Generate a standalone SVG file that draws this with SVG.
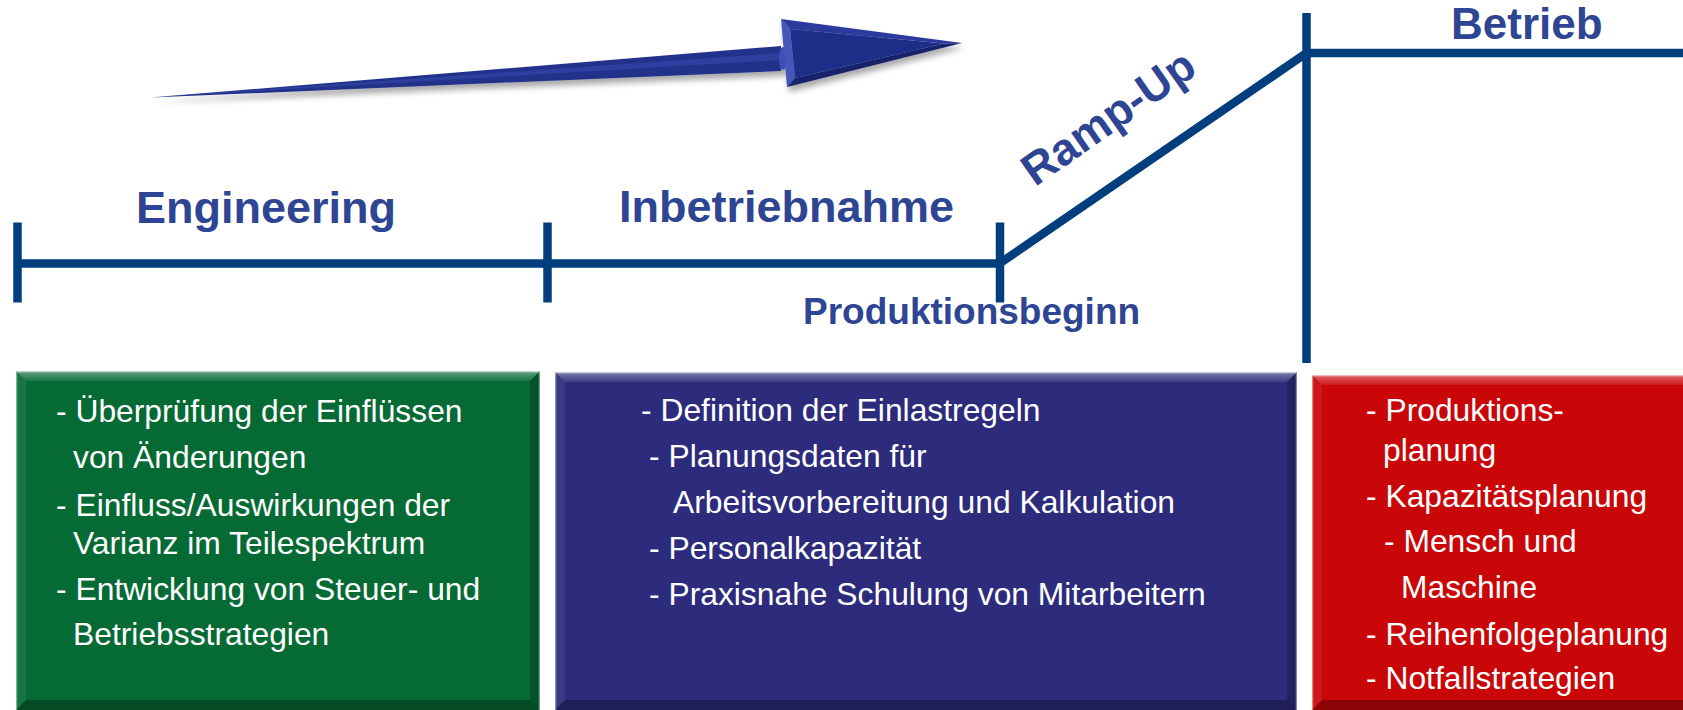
<svg xmlns="http://www.w3.org/2000/svg" width="1683" height="710" viewBox="0 0 1683 710">
  <style>
    .axis { stroke: #003e7e; stroke-width: 8.5; fill: none; stroke-linecap: butt; }
    .phase { font-family: "Liberation Sans", Arial, sans-serif; font-weight: bold; fill: #2e4593; }
    .item { font-family: "Liberation Sans", Arial, sans-serif; font-size: 31.8px; fill: #ffffff; }
    .bev-top { fill: url(#topShine); }
    .bev-left { fill: #ffffff; fill-opacity: 0.07; }
    .bev-right { fill: #000000; fill-opacity: 0.22; }
    .bev-bottom { fill: #000000; fill-opacity: 0.3; }
    .rim { fill: none; stroke: #ffffff; stroke-opacity: 0.45; stroke-width: 1.5; }
  </style>
  <defs>
    <linearGradient id="topShine" x1="0" y1="0" x2="0" y2="1">
      <stop offset="0" stop-color="#ffffff" stop-opacity="0.55"/>
      <stop offset="0.25" stop-color="#ffffff" stop-opacity="0.3"/>
      <stop offset="1" stop-color="#ffffff" stop-opacity="0.08"/>
    </linearGradient>
    <filter id="softShadow" x="-10%" y="-50%" width="120%" height="220%">
      <feGaussianBlur in="SourceAlpha" stdDeviation="3"/>
      <feOffset dx="2" dy="5" result="blur"/>
      <feComponentTransfer><feFuncA type="linear" slope="0.35"/></feComponentTransfer>
      <feMerge><feMergeNode/><feMergeNode in="SourceGraphic"/></feMerge>
    </filter>
  </defs>

  <rect width="1683" height="710" fill="#ffffff"/>

  <!-- progress arrow -->
  <g id="progress-arrow" filter="url(#softShadow)">
    <polygon points="151,97.5 781,46 781,71" fill="#22318b"/>
    <polygon points="151,97.3 781,53 781,60" fill="#3a4cb0" fill-opacity="0.55"/>
    <ellipse cx="783" cy="58.5" rx="4" ry="11.5" fill="#3c4eb4"/>
    <polygon points="781,19 787,87 795,78 790,29" fill="#4557b9"/>
    <polygon points="781,19 962,43 944,43.5 790,29" fill="#2b3b9d"/>
    <polygon points="787,87 962,43 944,43.5 795,78" fill="#16236b"/>
    <polygon points="790,29 944,43.5 795,78" fill="#1f2e88"/>
  </g>

  <!-- timeline axis -->
  <g id="connectors">
    <line class="axis" x1="17.5" y1="263.5" x2="1000" y2="263.5"/>
    <line class="axis" x1="17.5" y1="222.5" x2="17.5" y2="302.5"/>
    <line class="axis" x1="547.5" y1="222.5" x2="547.5" y2="302.5"/>
    <line class="axis" x1="1000" y1="222.5" x2="1000" y2="302.5"/>
    <line class="axis" x1="998" y1="264.5" x2="1306.5" y2="53"/>
    <line class="axis" x1="1306.5" y1="13" x2="1306.5" y2="363"/>
    <line class="axis" x1="1306.5" y1="53" x2="1683" y2="53"/>
  </g>

  <!-- phase labels -->
  <g id="label-engineering"><text class="phase" x="136" y="223" font-size="45">Engineering</text></g>
  <g id="label-inbetriebnahme"><text class="phase" x="619" y="222" font-size="45">Inbetriebnahme</text></g>
  <g id="label-produktionsbeginn"><text class="phase" x="803" y="324" font-size="37">Produktionsbeginn</text></g>
  <g id="label-rampup"><text class="phase" x="0" y="0" font-size="45" text-anchor="middle" transform="translate(1117,130) rotate(-35)">Ramp-Up</text></g>
  <g id="label-betrieb"><text class="phase" x="1451" y="39" font-size="44">Betrieb</text></g>

  <!-- Engineering tasks -->
  <g id="box-engineering">
    <rect x="16" y="371" width="524" height="339" fill="#066a35"/>
    <polygon class="bev-top" points="16,371 540,371 530,381 26,381"/>
    <polygon class="bev-left" points="16,371 26,381 26,700 16,710"/>
    <polygon class="bev-right" points="540,371 540,710 530,700 530,381"/>
    <polygon class="bev-bottom" points="16,710 26,700 530,700 540,710"/>
    <rect class="rim" x="16.5" y="371.5" width="523" height="340"/>
    <text class="item" x="56" y="422">- Überprüfung der Einflüssen</text>
    <text class="item" x="73" y="468">von Änderungen</text>
    <text class="item" x="56" y="516">- Einfluss/Auswirkungen der</text>
    <text class="item" x="73" y="554">Varianz im Teilespektrum</text>
    <text class="item" x="56" y="600">- Entwicklung von Steuer- und</text>
    <text class="item" x="73" y="645">Betriebsstrategien</text>
  </g>

  <!-- Commissioning tasks -->
  <g id="box-inbetriebnahme">
    <rect x="555" y="372" width="742" height="338" fill="#2d2b7c"/>
    <polygon class="bev-top" points="555,372 1297,372 1287,382 565,382"/>
    <polygon class="bev-left" points="555,372 565,382 565,700 555,710"/>
    <polygon class="bev-right" points="1297,372 1297,710 1287,700 1287,382"/>
    <polygon class="bev-bottom" points="555,710 565,700 1287,700 1297,710"/>
    <rect class="rim" x="555.5" y="372.5" width="741" height="339"/>
    <text class="item" x="641" y="421">- Definition der Einlastregeln</text>
    <text class="item" x="649" y="467">- Planungsdaten für</text>
    <text class="item" x="673" y="513">Arbeitsvorbereitung und Kalkulation</text>
    <text class="item" x="649" y="559">- Personalkapazität</text>
    <text class="item" x="649" y="605">- Praxisnahe Schulung von Mitarbeitern</text>
  </g>

  <!-- Operation tasks -->
  <g id="box-betrieb">
    <rect x="1312" y="375" width="390" height="335" fill="#c90708"/>
    <polygon class="bev-top" points="1312,375 1702,375 1692,385 1322,385"/>
    <polygon class="bev-left" points="1312,375 1322,385 1322,700 1312,710"/>
    <polygon class="bev-bottom" points="1312,710 1322,700 1692,700 1702,710"/>
    <rect class="rim" x="1312.5" y="375.5" width="390" height="336"/>
    <text class="item" x="1366" y="421">- Produktions-</text>
    <text class="item" x="1383" y="461">planung</text>
    <text class="item" x="1366" y="507">- Kapazitätsplanung</text>
    <text class="item" x="1384" y="552">- Mensch und</text>
    <text class="item" x="1401" y="598">Maschine</text>
    <text class="item" x="1366" y="645">- Reihenfolgeplanung</text>
    <text class="item" x="1366" y="689">- Notfallstrategien</text>
  </g>
</svg>
